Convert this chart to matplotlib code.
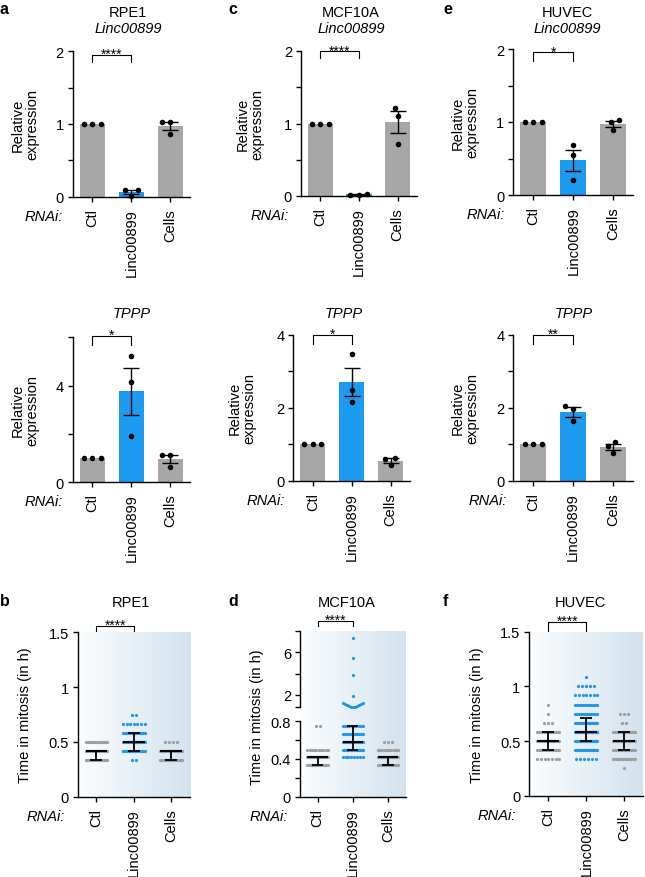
import numpy as np
import matplotlib
matplotlib.use('Agg')
import matplotlib.pyplot as plt
from matplotlib.colors import LinearSegmentedColormap

plt.rcParams['font.family'] = ['Liberation Sans', 'DejaVu Sans']
plt.rcParams['font.size'] = 10.5

W, H = 645, 878  # output size in px at dpi 100

groups = ['Ctl', 'Linc00899', 'Cells']
cell_lines = ['RPE1', 'MCF10A', 'HUVEC']

# qPCR, relative expression, 3 replicates per RNAi condition
rpe1_linc = [[1.0, 1.0, 1.0], [0.09, 0.09, 0.01], [1.03, 1.03, 0.86]]
rpe1_tppp = [[1.0, 1.0, 1.0], [5.23, 4.14, 1.92], [1.12, 1.12, 0.62]]
mcf_linc = [[1.0, 1.0, 1.0], [0.03, 0.02, 0.02], [1.22, 1.11, 0.72]]
mcf_tppp = [[1.0, 1.0, 1.0], [3.48, 2.49, 2.17], [0.62, 0.60, 0.43]]
huv_linc = [[1.0, 1.0, 1.0], [0.68, 0.55, 0.20], [1.03, 1.00, 0.89]]
huv_tppp = [[1.0, 1.0, 1.0], [2.06, 1.98, 1.63], [1.07, 0.95, 0.77]]

# time in mitosis (h): observed durations and number of cells for each
rpe1_ctl_t = [0.333, 0.417, 0.5]
rpe1_ctl_n = [16, 26, 12]
rpe1_kd_t = [0.333, 0.417, 0.5, 0.583, 0.667, 0.75]
rpe1_kd_n = [2, 16, 20, 14, 7, 2]
rpe1_cells_t = [0.333, 0.417, 0.5]
rpe1_cells_n = [18, 28, 4]

mcf_ctl_t = [0.333, 0.417, 0.5, 0.75]
mcf_ctl_n = [14, 26, 10, 2]
mcf_kd_t = [0.417, 0.5, 0.583, 0.667, 0.75, 0.833, 0.917, 1.0, 1.083,
            1.167, 1.25, 1.9, 3.9, 5.5, 7.35]
mcf_kd_n = [8, 16, 14, 12, 10, 3, 2, 2, 2, 1, 1, 1, 1, 1, 1]
mcf_cells_t = [0.333, 0.417, 0.5, 0.583]
mcf_cells_n = [14, 26, 10, 3]

huv_ctl_t = [0.333, 0.417, 0.5, 0.583, 0.667, 0.75, 0.833]
huv_ctl_n = [7, 16, 18, 14, 3, 1, 1]
huv_kd_t = [0.333, 0.417, 0.5, 0.583, 0.667, 0.75, 0.833, 0.917, 1.0, 1.083]
huv_kd_n = [6, 24, 26, 28, 26, 12, 12, 7, 5, 1]
huv_cells_t = [0.25, 0.333, 0.417, 0.5, 0.583, 0.667, 0.75]
huv_cells_n = [1, 12, 16, 18, 14, 2, 3]

stars_linc = ['****', '****', '*']
stars_tppp = ['*', '*', '**']
stars_mitosis = ['****', '****', '****']

GRAY_BAR = '#a7a7a7'
BLUE_BAR = '#1c9bf0'
GRAY_DOT = '#9d9d9d'
BLUE_DOT = '#2196e8'
bar_colors = [GRAY_BAR, BLUE_BAR, GRAY_BAR]
dot_colors = [GRAY_DOT, BLUE_DOT, GRAY_DOT]
bg_cmap = LinearSegmentedColormap.from_list('bg', ['#fbfdfe', '#d3e2ee'])

fig = plt.figure(figsize=(W / 100, H / 100), dpi=100)


def rect(x0, y0, x1, y1):
    # pixel box (top-left origin) -> figure fraction
    return [x0 / W, 1 - y1 / H, (x1 - x0) / W, (y1 - y0) / H]


def ftext(x, y, s, **kw):
    fig.text(x / W, 1 - y / H, s, **kw)


def swarm(vals, ppy, ppx, d):
    """simple beeswarm in pixel space, returns x offsets in data units"""
    vals = np.asarray(vals, float)
    offs = np.zeros(len(vals))
    placed = []
    for i in np.argsort(vals, kind='stable'):
        y = vals[i] * ppy
        cands = [0.0]
        for px, py in placed:
            dy = abs(y - py)
            if dy < d:
                dx = np.sqrt(d * d - dy * dy)
                cands += [px - dx, px + dx]
        cands.sort(key=lambda c: (abs(c), c))
        for c in cands:
            if all((c - px) ** 2 + (y - py) ** 2 >= d * d - 1e-6 for px, py in placed):
                break
        placed.append((c, y))
        offs[i] = c / ppx
    return offs


def rows(vals, ppy, ppx, h=5.0, step=4.0, span=0.58):
    """GraphPad-like rows: close values share a row, squeezed to the column width"""
    vals = np.sort(np.asarray(vals, float))
    x = np.zeros(len(vals))
    start = 0
    while start < len(vals):
        end = start
        while end < len(vals) and (vals[end] - vals[start]) * ppy < h:
            end += 1
        n = end - start
        s = step if n < 2 else min(step, span * ppx / (n - 1))
        pos = (np.arange(n) - (n - 1) / 2) * s
        pos = pos[np.argsort(np.abs(pos), kind='stable')]
        x[start:end] = pos / ppx
        start = end
    return vals, x


def style(ax, ylim, major, minor):
    ax.set_xlim(-0.5, 2.5)
    ax.set_ylim(*ylim)
    ax.spines[['top', 'right']].set_visible(False)
    ax.spines[['left', 'bottom']].set_linewidth(1.0)
    ax.set_yticks(major, [f'{v:g}' for v in major])
    ax.set_yticks(minor, minor=True)
    ax.set_xticks(range(3), groups, rotation=90)
    ax.tick_params(which='both', direction='out', length=3.5, width=1.0, labelsize=10.5)
    ax.tick_params(axis='y', pad=3)
    ax.tick_params(axis='x', pad=4.5)


def bracket(ax, y, leg, stars):
    tr = ax.get_xaxis_transform()
    ax.plot([0, 0, 1, 1], [y - leg, y, y, y - leg], color='k', lw=0.8,
            transform=tr, clip_on=False)
    ax.annotate(stars, xy=(0.5, y), xycoords=tr, xytext=(0, -3),
                textcoords='offset pixels', ha='center', va='baseline', fontsize=10)


def ylab(ax, s, dx):
    ax.annotate(s, xy=(0, 0.5), xycoords='axes fraction', xytext=(dx, 0),
                textcoords='offset pixels', rotation=90, ha='center', va='center',
                linespacing=1.05)


def rnai(ax, dx):
    ax.annotate('RNAi:', xy=(0, 0), xycoords='axes fraction', xytext=(dx, -19),
                textcoords='offset pixels', ha='right', va='center', style='italic')


def bar_panel(box, reps, ymax, major, minor, stars, by, bleg, ydx, rdx):
    ax = fig.add_axes(rect(*box))
    style(ax, (0, ymax), major, minor)
    ppy = ax.bbox.height / ymax
    ppx = ax.bbox.width / 3
    for i, rep in enumerate(reps):
        rep = np.asarray(rep, float)
        m = rep.mean()
        sem = rep.std(ddof=1) / np.sqrt(len(rep))
        ax.bar(i, m, 0.65, color=bar_colors[i], zorder=1)
        ax.plot(i + swarm(rep, ppy, ppx, 8.5), rep, 'o', color='k', ms=4,
                mec='none', zorder=3, clip_on=False)
        if sem > 0:
            ax.errorbar(i, m, yerr=sem, fmt='none', ecolor='k', elinewidth=1,
                        capsize=6, capthick=1, zorder=4)
    bracket(ax, by, bleg, stars)
    ylab(ax, 'Relative\nexpression', ydx)
    rnai(ax, rdx)
    return ax


def points(ax, i, vals, ppy, ppx):
    v, off = rows(vals, ppy, ppx)
    ax.plot(i + off, v, 'o', color=dot_colors[i], ms=2.3, mec='none', zorder=2,
            clip_on=False)


def summary(ax, i, vals):
    q1, med, q3 = np.percentile(vals, [25, 50, 75])
    ax.hlines(med, i - 0.29, i + 0.29, color='k', lw=1.5, zorder=4)
    ax.hlines([q1, q3], i - 0.16, i + 0.16, color='k', lw=1.3, zorder=4)
    ax.vlines(i, q1, q3, color='k', lw=1.3, zorder=4)


def background(box):
    bg = fig.add_axes(rect(*box))
    bg.imshow(np.linspace(0, 1, 256)[None, :], cmap=bg_cmap, aspect='auto',
              extent=(0, 1, 0, 1))
    bg.axis('off')


def mitosis_panel(box, data, stars, by, bleg, ydx):
    background(box)
    ax = fig.add_axes(rect(*box), facecolor='none')
    style(ax, (0, 1.5), [0, 0.5, 1, 1.5], [])
    ppy = ax.bbox.height / 1.5
    ppx = ax.bbox.width / 3
    for i, (t, n) in enumerate(data):
        vals = np.repeat(t, n)
        points(ax, i, vals, ppy, ppx)
        summary(ax, i, vals)
    bracket(ax, by, bleg, stars)
    ylab(ax, 'Time in mitosis (in h)', ydx)
    rnai(ax, -13)
    return ax


# ---- qPCR bar charts ----
bar_panel((72.7, 52.3, 190, 197.7), rpe1_linc, 2, [0, 1, 2], [0.5, 1.5],
          stars_linc[0], 0.975, 0.049, -48, -10)
bar_panel((301, 52, 417, 197), mcf_linc, 2, [0, 1, 2], [0.5, 1.5],
          stars_linc[1], 0.998, 0.048, -51, -12)
bar_panel((513.3, 50, 633.3, 196), huv_linc, 2, [0, 1, 2], [0.5, 1.5],
          stars_linc[2], 0.977, 0.057, -48, -8)
bar_panel((72.7, 338.3, 190, 483.3), rpe1_tppp, 6, [0, 4], [2, 6],
          stars_tppp[0], 1.011, 0.062, -48, -10)
bar_panel((293.3, 336, 410, 481.7), mcf_tppp, 4, [0, 2, 4], [1, 3],
          stars_tppp[1], 1.0, 0.062, -51.6, -8)
bar_panel((513.3, 336, 633, 481.7), huv_tppp, 4, [0, 2, 4], [1, 3],
          stars_tppp[2], 1.0, 0.062, -48, -6)

# ---- time in mitosis ----
mitosis_panel((77.7, 633.3, 190, 797.7),
              [(rpe1_ctl_t, rpe1_ctl_n), (rpe1_kd_t, rpe1_kd_n),
               (rpe1_cells_t, rpe1_cells_n)],
              stars_mitosis[0], 1.038, 0.03, -52.7)
mitosis_panel((529.3, 632.7, 643.3, 796.7),
              [(huv_ctl_t, huv_ctl_n), (huv_kd_t, huv_kd_n),
               (huv_cells_t, huv_cells_n)],
              stars_mitosis[2], 1.061, 0.055, -52.6)

# MCF10A uses a broken y axis
background((300, 632.3, 405.7, 797.7))
ax_lo = fig.add_axes(rect(300, 722.3, 405.7, 797.7), facecolor='none')
style(ax_lo, (0, 0.8), [0, 0.4, 0.8], [0.2, 0.6])
ax_up = fig.add_axes(rect(300, 632.3, 405.7, 708.3), facecolor='none')
style(ax_up, (0.8, 8), [2, 6], [0.8, 4, 8])
ax_up.spines['bottom'].set_visible(False)
ax_up.set_xticks([])
ppx = ax_lo.bbox.width / 3
ppy_lo = ax_lo.bbox.height / 0.8
ppy_up = ax_up.bbox.height / 7.2
for i, (t, n) in enumerate([(mcf_ctl_t, mcf_ctl_n), (mcf_kd_t, mcf_kd_n),
                            (mcf_cells_t, mcf_cells_n)]):
    vals = np.repeat(t, n)
    points(ax_lo, i, vals[vals <= 0.8], ppy_lo, ppx)
    if (vals > 0.8).any():
        points(ax_up, i, vals[vals > 0.8], ppy_up, ppx)
    summary(ax_lo, i, vals)
bracket(ax_up, 1.14, 0.066, stars_mitosis[1])
ftext(256.7, 717, 'Time in mitosis (in h)', rotation=90, ha='center', va='center')
rnai(ax_lo, -12)

# ---- titles and panel letters ----
for x, name in zip([128, 351, 567], cell_lines):
    ftext(x, 17, name, ha='center', va='baseline')
    ftext(x, 33, 'Linc00899', ha='center', va='baseline', style='italic')
for x in [132, 344, 574]:
    ftext(x, 317.5, 'TPPP', ha='center', va='baseline', style='italic')
for x, name in zip([131, 347, 580], cell_lines):
    ftext(x, 607, name, ha='center', va='baseline')
for x, y, s in [(0, 14, 'a'), (228, 14, 'c'), (443, 14, 'e'),
                (0, 606, 'b'), (228, 606, 'd'), (443, 606, 'f')]:
    ftext(x, y, s, ha='left', va='baseline', fontsize=11.5, fontweight='bold')

fig.savefig('out.png', dpi=100)
